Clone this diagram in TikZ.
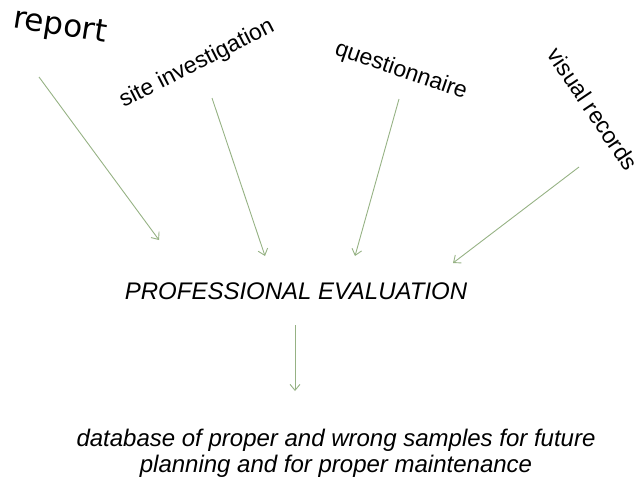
\documentclass[tikz,border=0pt]{standalone}
\usepackage{fontspec}
\setmainfont{Liberation Sans}
\newfontfamily\reportfont{DejaVu Sans}
\usetikzlibrary{arrows.meta, positioning}
\definecolor{flowgreen}{RGB}{150,178,132}
\tikzset{x=1pt, y=-1pt, % One unit is one pixel of the layout, y runs downwards
        source/.style={ % The four rotated sources of information
            inner sep=0pt,
            font=\fontsize{23}{27}\selectfont},
        result/.style={ % Italic boxes of the evaluation chain
            inner sep=0pt,
            align=center,
            font=\itshape\fontsize{24}{26}\selectfont},
        flow/.style={ % Thin green arrows with open heads
            draw=flowgreen,
            line width=0.9pt,
            -{Straight Barb[length=6pt,width=10pt]}}
        }

\begin{document}
\begin{tikzpicture}
    \useasboundingbox (0,0) rectangle (642,485);

    \node[source, font=\reportfont\fontsize{31}{36}\selectfont, rotate=-9] (report) at (60,27)  {report};
    \node[source, rotate=27]  (site)  at (197,64)  {site investigation};
    \node[source, rotate=-19] (quest) at (401,71)  {questionnaire};
    \node[source, rotate=-56] (visual) at (593,109) {visual records};

    \node[result] (eval) at (296,291) {PROFESSIONAL EVALUATION};
    \node[result] (data) at (336,453) {database of proper and wrong samples for future\\
                                       planning and for proper maintenance};

    % free ends of the arrows
    \coordinate (report-out) at (39,77);
    \coordinate (report-in)  at (159,240);
    \coordinate (site-out)   at (212,98);
    \coordinate (site-in)    at (265,256);
    \coordinate (quest-out)  at (399,99);
    \coordinate (quest-in)   at (355,256);
    \coordinate (visual-out) at (579,167);
    \coordinate (visual-in)  at (453,263);
    \coordinate (eval-out)   at (295,325);
    \coordinate (data-in)    at (295,391);

    \draw[flow] (report-out) -- (report-in);
    \draw[flow] (site-out)   -- (site-in);
    \draw[flow] (quest-out)  -- (quest-in);
    \draw[flow] (visual-out) -- (visual-in);
    \draw[flow] (eval-out)   -- (data-in);
\end{tikzpicture}
\end{document}
